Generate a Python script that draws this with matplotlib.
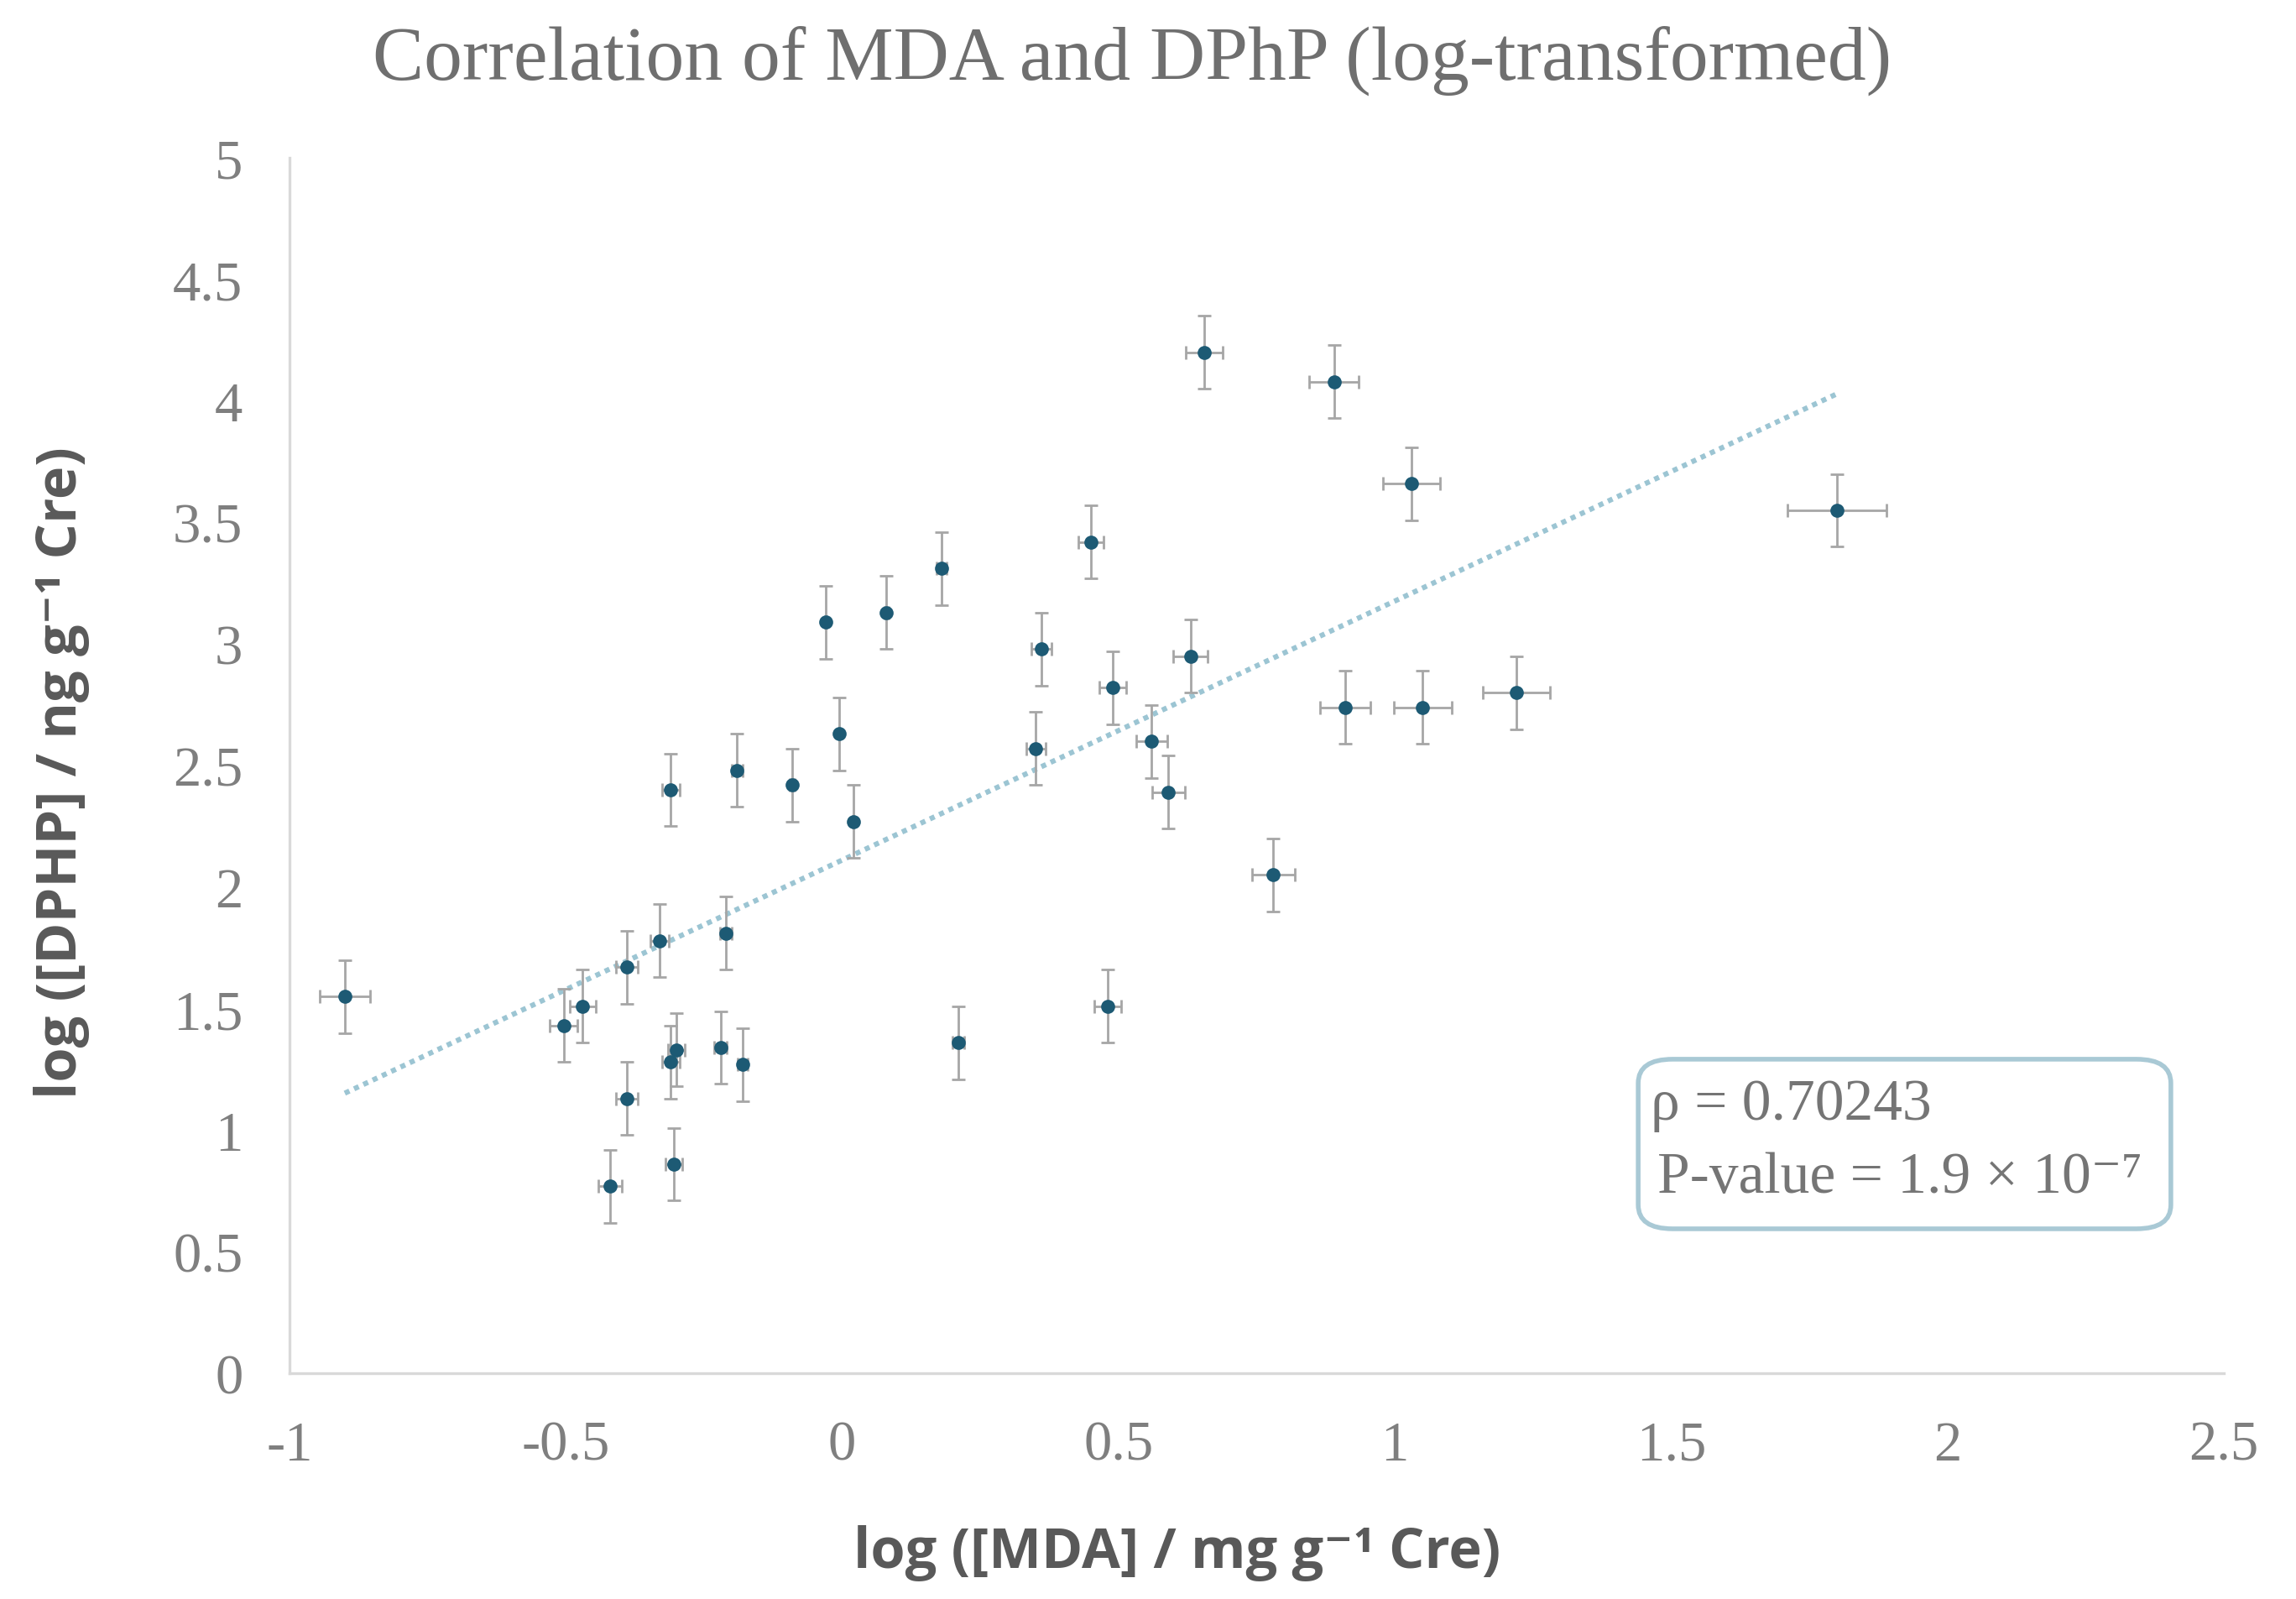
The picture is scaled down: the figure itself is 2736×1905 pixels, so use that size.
import numpy as np
import matplotlib
matplotlib.use("Agg")
import matplotlib.pyplot as plt
from matplotlib.patches import FancyBboxPatch

# ---- data ----
log_mda = [-0.90, -0.504, -0.47, -0.39, -0.33, -0.39, -0.42, -0.31, -0.31, -0.30,
           -0.305, -0.22, -0.18, -0.21, -0.19, -0.09, -0.03, -0.005, 0.02, 0.08,
           0.18, 0.21, 0.35, 0.36, 0.45, 0.48, 0.49, 0.56, 0.59, 0.63,
           0.655, 0.78, 0.89, 0.91, 1.03, 1.05, 1.22, 1.80]
log_dphp = [1.55, 1.43, 1.51, 1.67, 1.78, 1.13, 0.77, 2.40, 1.28, 1.33,
            0.86, 1.34, 1.27, 1.81, 2.48, 2.42, 3.09, 2.63, 2.27, 3.13,
            3.31, 1.36, 2.57, 2.98, 3.42, 1.51, 2.82, 2.60, 2.39, 2.95,
            4.20, 2.05, 4.08, 2.74, 3.66, 2.74, 2.80, 3.55]
y_err_value = 0.15          # fixed-value y error bars
x_err_percent = 0.05        # percentage x error bars
x_ticks = [-1, -0.5, 0, 0.5, 1, 1.5, 2, 2.5]
y_ticks = [0, 0.5, 1, 1.5, 2, 2.5, 3, 3.5, 4, 4.5, 5]
rho_text = "ρ = 0.70243"
p_text = "P-value = 1.9 × 10⁻⁷"

x = np.array(log_mda)
y = np.array(log_dphp)
xerr = np.abs(x) * x_err_percent
yerr = np.full_like(y, y_err_value)

serif = ["Liberation Serif", "DejaVu Serif"]
sans = ["Open Sans", "DejaVu Sans"]

fig = plt.figure(figsize=(13.68, 9.53), dpi=200)
ax = fig.add_axes([0.1261, 0.1411, 0.8425, 0.7597])

# trendline (linear least squares)
slope, intercept = np.polyfit(x, y, 1)
xl = np.array([x.min(), x.max()])
ax.plot(xl, slope * xl + intercept, linestyle=(0, (1, 1)), color="#9cc5d3",
        linewidth=2.2, zorder=1)

ax.errorbar(x, y, xerr=xerr, yerr=yerr, fmt="o", color="#1d5a74",
            markersize=5, ecolor="#a6a6a6", elinewidth=1.0, capsize=3,
            capthick=1.0, zorder=3)

ax.set_xlim(-1, 2.5)
ax.set_ylim(0, 5)
ax.set_xticks(x_ticks)
ax.set_yticks(y_ticks)
ax.set_xticklabels([f"{t:g}" for t in x_ticks])
ax.set_yticklabels([f"{t:g}" for t in y_ticks])
for s in ["top", "right"]:
    ax.spines[s].set_visible(False)
for s in ["left", "bottom"]:
    ax.spines[s].set_color("#d9d9d9")
    ax.spines[s].set_linewidth(1.2)
ax.tick_params(axis="both", length=0, labelsize=24, labelcolor="#7f7f7f")
ax.tick_params(axis="x", pad=20)
ax.tick_params(axis="y", pad=20)
for lab in ax.get_xticklabels() + ax.get_yticklabels():
    lab.set_family(serif)

ax.set_xlabel("log ([MDA] / mg g⁻¹ Cre)", family=sans, fontweight="bold",
              fontsize=24, color="#595959", va="center", ha="center")
ax.xaxis.set_label_coords(0.459, -0.1476)
ax.set_ylabel("log ([DPHP] / ng g⁻¹ Cre)", family=sans, fontweight="bold",
              fontsize=24, color="#595959", va="center", ha="center")
ax.yaxis.set_label_coords(-0.1176, 0.495)

fig.text(0.493, 0.962, "Correlation of MDA and DPhP (log-transformed)",
         family=serif, fontsize=33, color="#6f6f6f", ha="center", va="center")

box = FancyBboxPatch((0.7135, 0.2314), 0.232, 0.106,
                     boxstyle="round,pad=0,rounding_size=0.015",
                     transform=fig.transFigure, facecolor="white",
                     edgecolor="#a9c9d5", linewidth=2.0, zorder=5)
fig.add_artist(box)
fig.text(0.719, 0.309, rho_text, family=serif, fontsize=25, color="#757575",
         ha="left", va="center", zorder=6)
fig.text(0.722, 0.263, p_text, family=serif, fontsize=25, color="#757575",
         ha="left", va="center", zorder=6)

fig.savefig("out.png", dpi=200, facecolor="white")
